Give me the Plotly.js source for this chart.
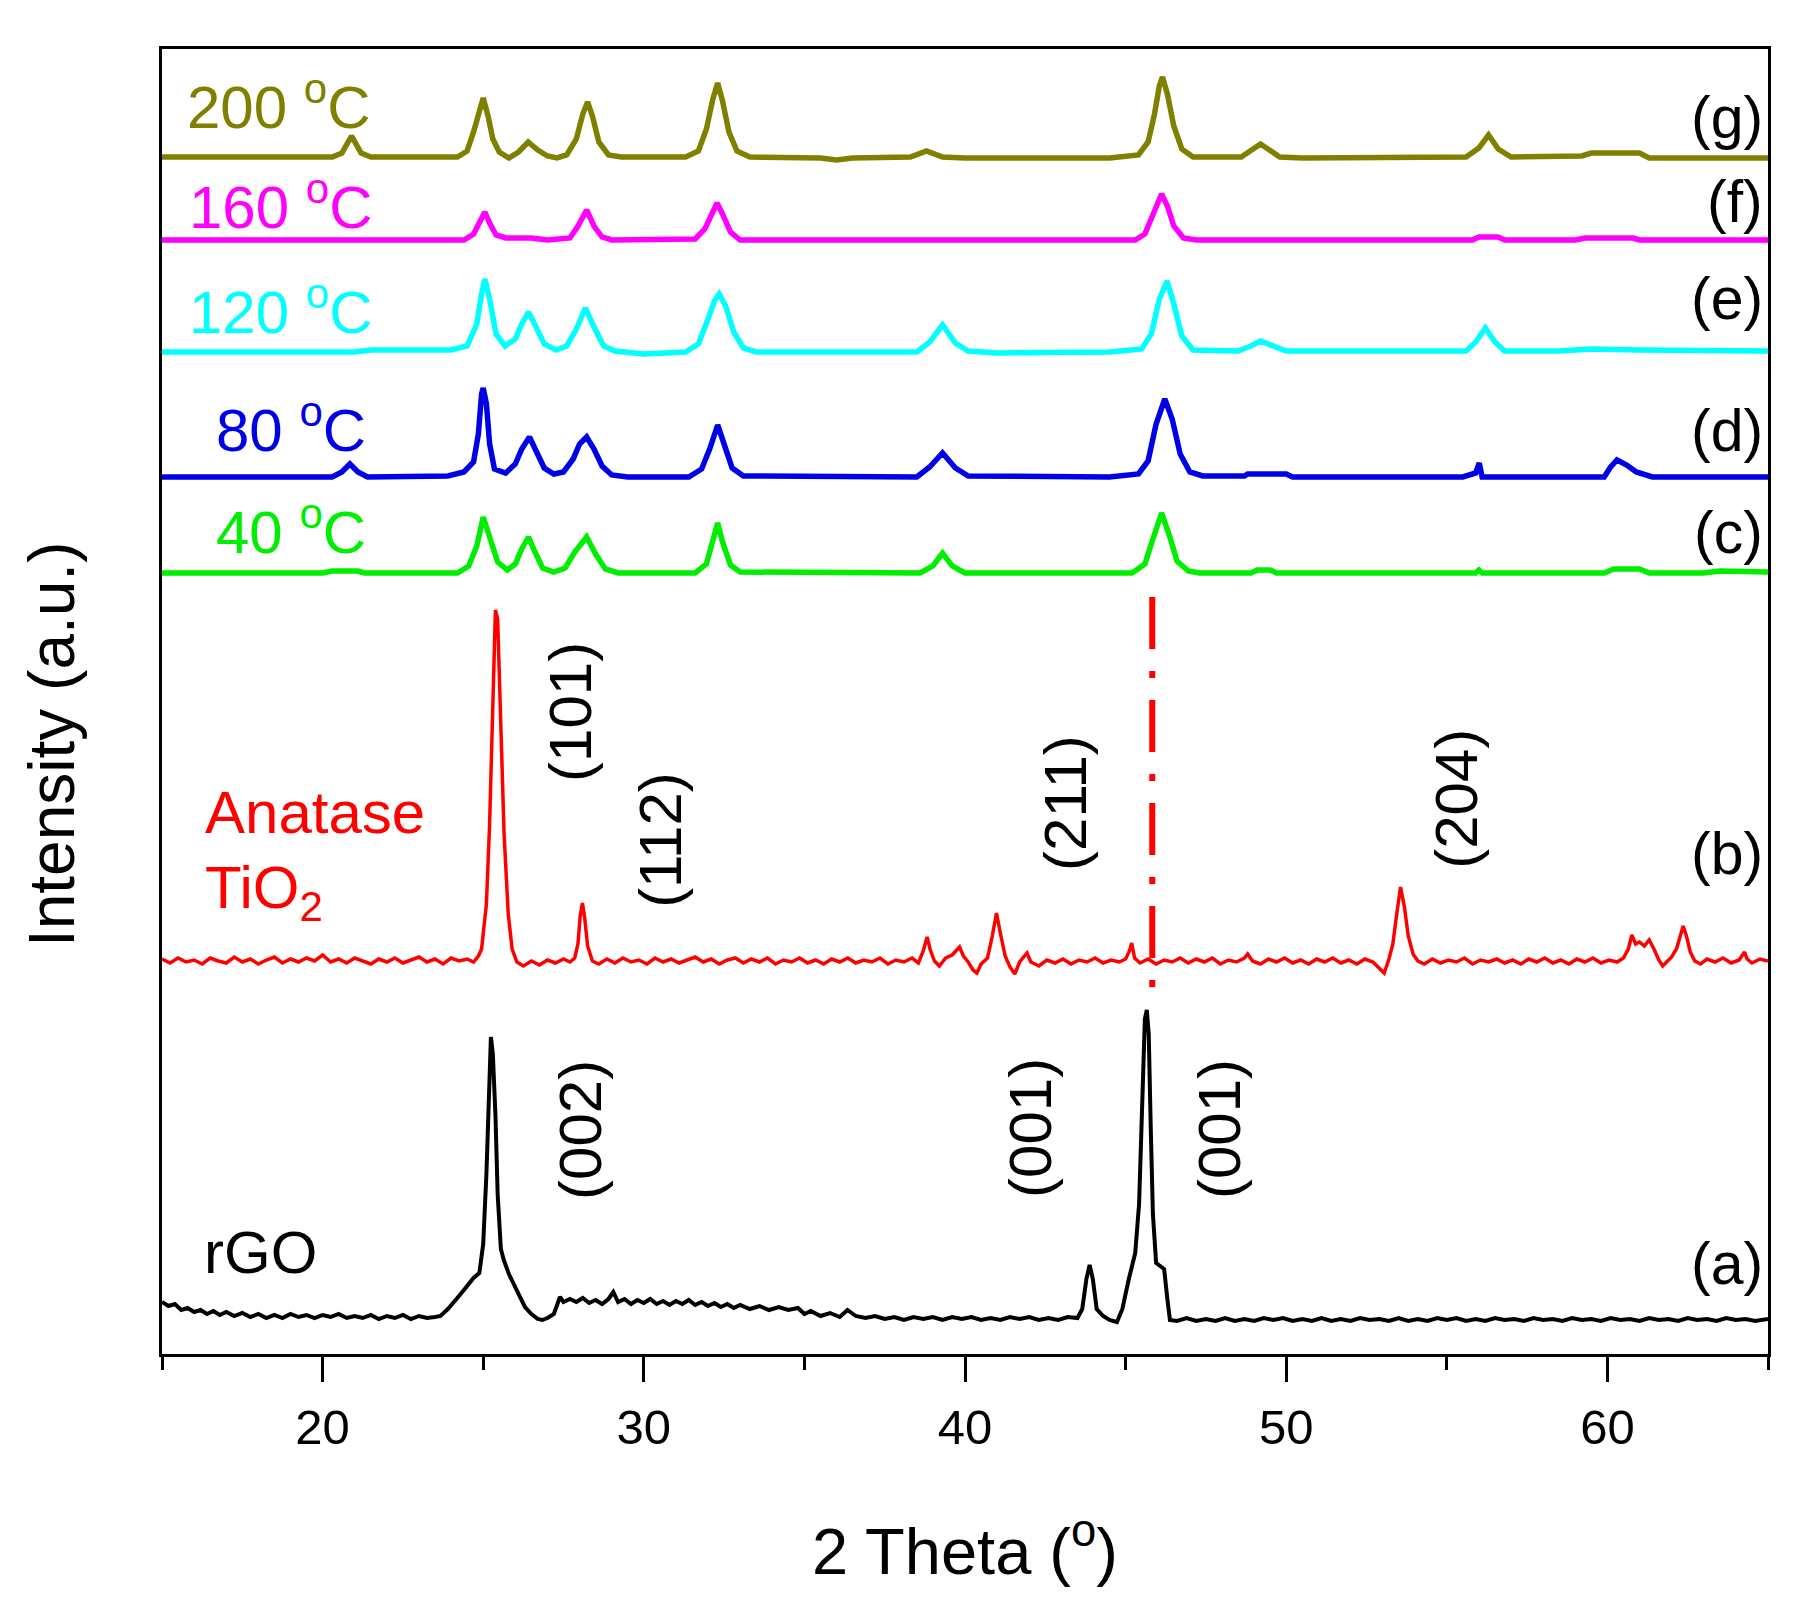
<!DOCTYPE html>
<html>
<head>
<meta charset="utf-8">
<script src="https://cdn.plot.ly/plotly-3.0.1.min.js"></script>
<style>html,body{margin:0;padding:0;background:#ffffff;}</style>
</head>
<body>
<div id="chart" style="width:1802px;height:1618px;"></div>
<script>
const FONT = 'Liberation Sans, Arial, Helvetica, sans-serif';

// [2theta, offset intensity (a.u.)]
const s200 = [[15.0,1197],[20.3,1197],[20.6,1201],[20.9,1218],[21.2,1201],[21.5,1197],[24.2,1197],[24.5,1203],[24.7,1222],[24.85,1240],[25.0,1256],[25.15,1238],[25.3,1215],[25.5,1202],[25.8,1196],[26.1,1202],[26.4,1212],[26.7,1204],[27.0,1198],[27.3,1196],[27.6,1199],[27.9,1215],[28.1,1240],[28.25,1252],[28.4,1238],[28.6,1212],[28.9,1199],[29.3,1197],[31.3,1197],[31.7,1203],[31.95,1225],[32.15,1255],[32.3,1271],[32.45,1253],[32.65,1222],[32.9,1203],[33.3,1197],[35.5,1196],[36.0,1194],[36.5,1196],[38.3,1197],[38.8,1203],[39.3,1197],[40.0,1196],[44.5,1196],[45.4,1199],[45.7,1212],[45.9,1240],[46.05,1268],[46.15,1277],[46.3,1260],[46.5,1228],[46.75,1205],[47.1,1197],[48.6,1197],[49.2,1210],[49.8,1197],[50.5,1196],[55.6,1197],[56.0,1206],[56.3,1219],[56.6,1205],[57.0,1197],[59.2,1198],[59.5,1201],[61.0,1201],[61.3,1196],[65.0,1196]];

const s160 = [[15,1114],[24.4,1114],[24.7,1120],[24.9,1132],[25.05,1142],[25.2,1131],[25.4,1119],[25.7,1116],[26.5,1116],[27.0,1114],[27.7,1116],[27.95,1128],[28.22,1144],[28.45,1128],[28.7,1117],[29.0,1114],[31.6,1115],[31.9,1125],[32.1,1140],[32.28,1151],[32.45,1140],[32.7,1122],[33.0,1114],[45.3,1114],[45.6,1120],[45.85,1140],[46.05,1158],[46.12,1160],[46.3,1148],[46.5,1128],[46.8,1116],[47.2,1114],[55.8,1114],[56.0,1117],[56.6,1117],[56.8,1114],[59.0,1114],[59.3,1116],[60.8,1116],[61.0,1114],[65,1114]];

const s120 = [[15,1002],[21.0,1002],[21.5,1004],[24.0,1004],[24.5,1008],[24.8,1030],[24.95,1060],[25.05,1075],[25.2,1055],[25.4,1020],[25.68,1008],[26.0,1015],[26.2,1030],[26.41,1042],[26.6,1030],[26.9,1010],[27.27,1004],[27.6,1008],[27.9,1025],[28.18,1046],[28.45,1027],[28.75,1008],[29.1,1003],[29.5,1002],[30.0,1000],[31.3,1002],[31.7,1010],[32.0,1035],[32.2,1053],[32.35,1060],[32.55,1048],[32.8,1022],[33.1,1006],[33.5,1002],[38.5,1002],[38.9,1012],[39.3,1029],[39.7,1011],[40.1,1003],[41.0,1001],[44.5,1002],[45.5,1005],[45.8,1020],[46.05,1055],[46.29,1073],[46.5,1050],[46.75,1018],[47.1,1004],[48.5,1003],[48.9,1008],[49.2,1013],[49.6,1008],[50.0,1003],[55.6,1003],[55.9,1012],[56.2,1026],[56.5,1012],[56.8,1003],[58.5,1003],[59.5,1005],[61.0,1004],[65,1003]];

const s80 = [[15,877],[20.3,877],[20.6,882],[20.85,890],[21.1,882],[21.4,877],[23.9,878],[24.4,882],[24.7,892],[24.85,920],[24.95,960],[25.0,966],[25.1,950],[25.2,910],[25.35,885],[25.7,881],[26.0,890],[26.2,905],[26.44,917],[26.65,903],[26.9,886],[27.2,880],[27.5,882],[27.8,895],[28.0,910],[28.22,917],[28.45,905],[28.7,888],[29.0,879],[29.5,877],[31.4,877],[31.8,885],[32.05,905],[32.3,929],[32.5,908],[32.75,886],[33.1,878],[38.5,877],[38.9,887],[39.3,901],[39.7,886],[40.1,878],[44.5,877],[45.4,880],[45.7,893],[45.95,930],[46.22,955],[46.45,935],[46.7,900],[47.0,882],[47.4,878],[48.7,878],[48.8,880],[50.0,880],[50.2,877],[55.5,877],[55.9,881],[56.01,891],[56.1,877],[59.9,877],[60.1,887],[60.3,894],[60.6,889],[60.9,882],[61.4,877],[65,877]];

const s40 = [[15,781],[20.0,781],[20.3,783],[21.1,783],[21.3,781],[24.2,781],[24.55,788],[24.8,808],[25.0,837],[25.2,818],[25.45,792],[25.75,784],[26.0,790],[26.2,805],[26.41,817],[26.6,803],[26.85,786],[27.2,782],[27.55,786],[27.85,802],[28.22,817],[28.5,800],[28.8,785],[29.2,781],[31.6,781],[31.95,790],[32.15,815],[32.3,831],[32.45,812],[32.7,789],[33.0,782],[38.6,781],[39.0,788],[39.3,801],[39.6,788],[40.0,781],[45.2,781],[45.6,790],[45.85,815],[46.12,841],[46.35,820],[46.6,793],[46.95,783],[47.3,781],[48.9,781],[49.1,784],[49.5,784],[49.7,781],[55.9,781],[56.0,784],[56.1,781],[59.9,781],[60.2,785],[61.0,785],[61.3,781],[63.0,781],[63.5,783],[65,782]];

const sAnatase = [[15.0,395],[15.25,391],[15.5,396],[15.75,392],[16.0,394],[16.25,390],[16.5,396],[16.75,393],[17.0,391],[17.25,397],[17.5,392],[17.75,395],[18.0,390],[18.25,394],[18.5,397],[18.75,391],[19.0,395],[19.25,392],[19.5,396],[19.75,393],[20.0,399],[20.25,392],[20.5,395],[20.75,391],[21.0,396],[21.25,393],[21.5,390],[21.75,395],[22.0,392],[22.25,396],[22.5,391],[22.75,394],[23.0,397],[23.25,392],[23.5,395],[23.75,390],[24.0,396],[24.25,393],[24.5,395],[24.7,392],[24.85,398],[24.95,405],[25.1,450],[25.2,530],[25.3,650],[25.38,744],[25.45,735],[25.55,640],[25.65,520],[25.78,440],[25.9,405],[26.05,392],[26.25,388],[26.5,393],[26.75,389],[27.0,394],[27.25,391],[27.5,395],[27.7,392],[27.85,396],[27.95,410],[28.02,438],[28.09,451],[28.16,436],[28.25,408],[28.4,393],[28.6,390],[28.85,395],[29.1,391],[29.35,396],[29.6,392],[29.85,394],[30.1,390],[30.35,396],[30.6,392],[30.85,395],[31.1,391],[31.35,394],[31.6,397],[31.85,392],[32.1,395],[32.35,390],[32.6,394],[32.85,396],[33.1,391],[33.35,395],[33.6,392],[33.85,396],[34.1,390],[34.35,394],[34.6,392],[34.85,396],[35.1,391],[35.35,394],[35.6,390],[35.85,395],[36.1,392],[36.35,396],[36.6,391],[36.85,394],[37.1,392],[37.35,396],[37.6,390],[37.85,394],[38.1,392],[38.35,396],[38.55,391],[38.7,403],[38.82,417],[38.92,404],[39.05,393],[39.2,388],[39.4,396],[39.6,399],[39.75,404],[39.83,407],[39.95,398],[40.1,392],[40.25,384],[40.37,381],[40.5,390],[40.7,396],[40.85,418],[40.98,441],[41.1,421],[41.25,398],[41.4,387],[41.55,380],[41.7,392],[41.85,398],[41.93,401],[42.05,392],[42.3,388],[42.55,394],[42.8,391],[43.05,395],[43.3,390],[43.55,394],[43.8,392],[44.05,396],[44.3,391],[44.55,394],[44.8,392],[45.0,395],[45.12,403],[45.19,411],[45.28,396],[45.45,391],[45.7,395],[45.95,390],[46.2,394],[46.45,392],[46.7,396],[46.95,391],[47.2,395],[47.45,392],[47.7,396],[47.95,390],[48.2,394],[48.45,392],[48.7,396],[48.8,400],[48.95,393],[49.2,390],[49.45,395],[49.7,392],[49.95,396],[50.2,391],[50.45,394],[50.7,390],[50.95,395],[51.2,392],[51.45,396],[51.7,391],[51.95,394],[52.2,390],[52.45,395],[52.7,392],[52.9,385],[53.05,381],[53.2,395],[53.32,410],[53.45,442],[53.56,467],[53.68,447],[53.8,418],[53.95,400],[54.1,393],[54.3,390],[54.55,395],[54.8,391],[55.05,394],[55.3,392],[55.55,396],[55.8,390],[56.05,394],[56.3,392],[56.55,395],[56.8,391],[57.05,394],[57.3,390],[57.55,395],[57.8,392],[58.05,396],[58.3,391],[58.55,394],[58.8,390],[59.05,395],[59.3,392],[59.55,396],[59.8,391],[60.05,394],[60.3,392],[60.5,396],[60.65,405],[60.76,419],[60.88,410],[61.0,412],[61.15,408],[61.3,414],[61.45,405],[61.6,394],[61.72,388],[61.85,392],[62.0,397],[62.15,405],[62.28,420],[62.36,428],[62.46,418],[62.58,402],[62.72,393],[62.9,390],[63.1,395],[63.35,392],[63.6,396],[63.85,391],[64.1,394],[64.2,398],[64.27,402],[64.35,395],[64.5,391],[64.75,395],[65.0,393]];

const sRGO = [[15.0,52],[15.2,48],[15.4,50],[15.6,44],[15.8,46],[16.0,42],[16.2,44],[16.4,40],[16.6,43],[16.8,39],[17.0,42],[17.25,38],[17.5,41],[17.75,37],[18.0,40],[18.25,36],[18.5,39],[18.75,36],[19.0,40],[19.25,37],[19.5,39],[19.75,36],[20.0,39],[20.25,37],[20.5,40],[20.75,36],[21.0,38],[21.25,36],[21.5,39],[21.75,35],[22.0,38],[22.25,36],[22.5,39],[22.75,35],[23.0,38],[23.25,36],[23.5,37],[23.67,38],[23.9,45],[24.1,52],[24.22,57],[24.45,66],[24.7,76],[24.88,81],[25.0,110],[25.1,180],[25.18,270],[25.24,317],[25.3,300],[25.38,240],[25.45,160],[25.55,105],[25.64,94],[25.8,80],[25.95,70],[26.1,60],[26.3,47],[26.5,40],[26.7,35],[26.84,34],[27.0,36],[27.2,40],[27.39,57],[27.5,52],[27.7,55],[27.9,52],[28.1,56],[28.3,51],[28.5,54],[28.7,50],[28.9,55],[29.05,62],[29.2,52],[29.4,55],[29.6,50],[29.8,54],[30.0,51],[30.2,55],[30.4,50],[30.6,53],[30.8,49],[31.0,53],[31.2,50],[31.4,54],[31.6,49],[31.8,52],[32.0,48],[32.2,51],[32.4,47],[32.6,50],[32.8,46],[33.0,49],[33.3,45],[33.6,48],[33.9,44],[34.2,47],[34.5,44],[34.8,46],[35.0,40],[35.2,43],[35.5,38],[35.8,41],[36.1,37],[36.34,44],[36.6,38],[36.9,36],[37.2,38],[37.5,35],[37.8,37],[38.1,34],[38.4,37],[38.7,35],[39.0,37],[39.3,34],[39.6,37],[39.9,35],[40.2,37],[40.5,34],[40.8,36],[41.1,34],[41.4,37],[41.7,35],[42.0,37],[42.3,34],[42.6,36],[42.9,34],[43.2,37],[43.5,36],[43.65,45],[43.78,75],[43.88,89],[43.98,75],[44.1,45],[44.3,38],[44.5,34],[44.73,32],[44.9,45],[45.1,75],[45.3,101],[45.42,150],[45.52,250],[45.6,335],[45.66,344],[45.72,320],[45.78,230],[45.85,140],[45.95,91],[46.1,88],[46.2,85],[46.3,55],[46.38,34],[46.6,33],[46.9,36],[47.2,33],[47.5,35],[47.8,33],[48.1,36],[48.4,33],[48.7,35],[49.0,33],[49.3,36],[49.6,34],[49.9,36],[50.2,33],[50.5,35],[50.8,33],[51.1,36],[51.4,33],[51.7,35],[52.0,33],[52.3,36],[52.6,34],[52.9,35],[53.2,33],[53.5,36],[53.8,33],[54.1,35],[54.4,33],[54.7,36],[55.0,34],[55.3,36],[55.6,33],[55.9,35],[56.2,33],[56.5,36],[56.8,34],[57.1,35],[57.4,33],[57.7,36],[58.0,34],[58.3,35],[58.6,33],[58.9,36],[59.2,34],[59.5,35],[59.8,33],[60.1,36],[60.4,34],[60.7,35],[61.0,33],[61.3,36],[61.6,34],[61.9,35],[62.2,33],[62.5,36],[62.8,34],[63.1,35],[63.4,33],[63.7,36],[64.0,34],[64.3,35],[64.6,33],[65.0,35]];

// reference line at the rGO / TiO2 position
const refLineX = [45.83, 45.83];
const refLineY = [757, 354];

const seriesNames = ['200 <sup>o</sup>C','160 <sup>o</sup>C','120 <sup>o</sup>C','80 <sup>o</sup>C','40 <sup>o</sup>C','Anatase TiO<sub>2</sub>','rGO'];
const panelLabels = ['(g)','(f)','(e)','(d)','(c)','(b)','(a)'];
const hklLabels = ['(101)','(112)','(211)','(204)','(002)','(001)','(001)'];
const tickValues = [20,30,40,50,60];

const allSeries = [s200, s160, s120, s80, s40, sAnatase, sRGO];
const colors = ['#808000','#ff00ff','#00ffff','#0000e6','#00ee00','#ff0000','#000000'];
const widths = [5.5,5.5,5.5,5.5,5.5,3.5,4];

const traces = allSeries.map((s, i) => ({
  type: 'scatter', mode: 'lines',
  x: s.map(p => p[0]), y: s.map(p => p[1]),
  name: seriesNames[i],
  line: {color: colors[i], width: widths[i], shape: 'linear'},
  hoverinfo: 'skip'
}));
traces.push({
  type: 'scatter', mode: 'lines', x: refLineX, y: refLineY, name: 'ref',
  line: {color: '#ff0000', width: 6, dash: '52px,22px,7px,22px'}, hoverinfo: 'skip'
});

function txt(text, x, y, color, xanchor, extra) {
  return Object.assign({
    text: text, x: x, y: y, xref: 'x', yref: 'y', showarrow: false,
    xanchor: xanchor, yanchor: 'middle', align: 'left',
    font: {family: FONT, size: 60, color: color}
  }, extra || {});
}
const letterFont = {family: FONT, size: 59, color: '#000'};

const annotations = [
  // temperature labels
  txt(seriesNames[0], 21.54, 1251, colors[0], 'right'),
  txt(seriesNames[1], 21.60, 1151, colors[1], 'right'),
  txt(seriesNames[2], 21.60, 1046, colors[2], 'right'),
  txt(seriesNames[3], 21.41, 928, colors[3], 'right'),
  txt(seriesNames[4], 21.41, 826, colors[4], 'right'),
  txt('Anatase', 16.28, 542, '#ff0000', 'left'),
  txt('TiO<sub>2</sub>', 16.28, 462, '#ff0000', 'left'),
  txt(seriesNames[6], 16.25, 102, '#000000', 'left'),
  // panel letters
  txt(panelLabels[0], 64.90, 1236, '#000', 'right', {font: letterFont}),
  txt(panelLabels[1], 64.90, 1152, '#000', 'right', {font: letterFont}),
  txt(panelLabels[2], 64.90, 1055, '#000', 'right', {font: letterFont}),
  txt(panelLabels[3], 64.90, 923, '#000', 'right', {font: letterFont}),
  txt(panelLabels[4], 64.90, 821, '#000', 'right', {font: letterFont}),
  txt(panelLabels[5], 64.90, 500, '#000', 'right', {font: letterFont}),
  txt(panelLabels[6], 64.90, 90, '#000', 'right', {font: letterFont}),
  // Miller indices (rotated)
  txt(hklLabels[0], 27.70, 642, '#000', 'center', {textangle:-90}),
  txt(hklLabels[1], 30.50, 514, '#000', 'center', {textangle:-90}),
  txt(hklLabels[2], 43.11, 551, '#000', 'center', {textangle:-90}),
  txt(hklLabels[3], 55.28, 555, '#000', 'center', {textangle:-90}),
  txt(hklLabels[4], 28.01, 224, '#000', 'center', {textangle:-90}),
  txt(hklLabels[5], 42.02, 226, '#000', 'center', {textangle:-90}),
  txt(hklLabels[6], 47.91, 225, '#000', 'center', {textangle:-90}),
  // y-axis title
  {text: 'Intensity (a.u.)', xref: 'paper', yref: 'paper', x: -0.0685, y: 0.4674,
   showarrow: false, textangle: -90, xanchor: 'center', yanchor: 'middle',
   font: {family: FONT, size: 64, color: '#000'}}
];

const layout = {
  width: 1802, height: 1618,
  margin: {l: 162, r: 34, t: 49, b: 264, pad: 0},
  paper_bgcolor: '#ffffff', plot_bgcolor: '#ffffff',
  showlegend: false,
  font: {family: FONT, color: '#000'},
  xaxis: {
    range: [15, 65], tickmode: 'array', tickvals: tickValues,
    ticks: 'outside', ticklen: 25, tickwidth: 3, tickcolor: '#000',
    minor: {tickmode: 'linear', tick0: 15, dtick: 5, ticks: 'outside', ticklen: 13, tickwidth: 3, tickcolor: '#000', showgrid: false},
    showline: true, linewidth: 3, linecolor: '#000', mirror: true,
    showgrid: false, zeroline: false, automargin: false,
    tickfont: {family: FONT, size: 49, color: '#000'},
    ticklabelstandoff: 3,
    title: {text: '2 Theta (<sup>o</sup>)', font: {family: FONT, size: 65, color: '#000'}, standoff: 76}
  },
  yaxis: {
    range: [0, 1305], showticklabels: false, ticks: '',
    showline: true, linewidth: 3, linecolor: '#000', mirror: true,
    showgrid: false, zeroline: false, automargin: false
  },
  annotations: annotations
};

Plotly.newPlot('chart', traces, layout, {displayModeBar: false, staticPlot: true});
</script>
</body>
</html>
